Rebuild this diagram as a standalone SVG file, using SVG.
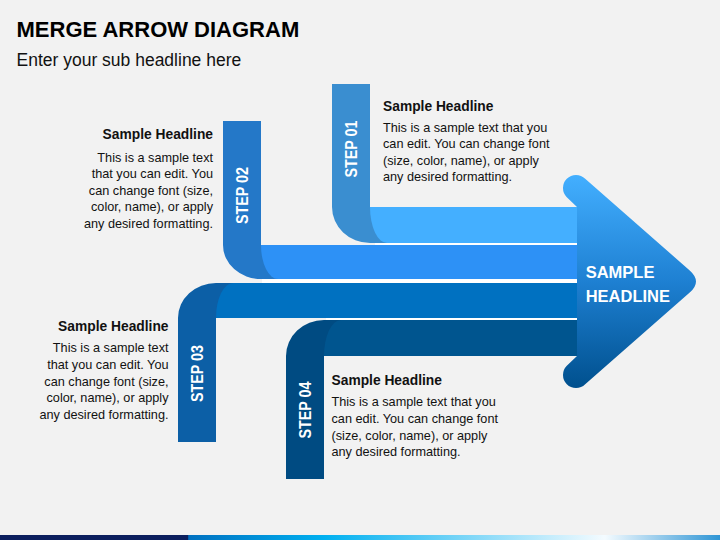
<svg xmlns="http://www.w3.org/2000/svg" width="720" height="540" viewBox="0 0 720 540">
  <defs>
    <linearGradient id="headGrad" gradientUnits="userSpaceOnUse" x1="0" y1="175" x2="0" y2="388">
      <stop offset="0" stop-color="#43AFFF"/>
      <stop offset="0.5" stop-color="#1E80D2"/>
      <stop offset="1" stop-color="#00508E"/>
    </linearGradient>
    <linearGradient id="barGrad" gradientUnits="userSpaceOnUse" x1="0" y1="0" x2="720" y2="0">
      <stop offset="0" stop-color="#0C1F5E"/>
      <stop offset="0.261" stop-color="#0C1F5E"/>
      <stop offset="0.262" stop-color="#0070C0"/>
      <stop offset="0.45" stop-color="#00B0F0"/>
      <stop offset="0.84" stop-color="#F4FBFF"/>
      <stop offset="1" stop-color="#2E95D5"/>
    </linearGradient>
    <style>
      .title { font-family: "Liberation Sans", Arial, sans-serif; font-weight: bold; font-size: 22px; fill: #000; }
      .sub { font-family: "Liberation Sans", Arial, sans-serif; font-size: 17.5px; fill: #111; }
      .hd { font-family: "Liberation Sans", Arial, sans-serif; font-weight: bold; font-size: 13.8px; fill: #111; }
      .body { font-family: "Liberation Sans", Arial, sans-serif; font-size: 12.7px; fill: #111; }
      .step { font-family: "Liberation Sans", Arial, sans-serif; font-weight: bold; font-size: 16px; fill: #fff; }
      .headTxt { font-family: "Liberation Sans", Arial, sans-serif; font-weight: bold; font-size: 16.5px; fill: #fff; }
      .gap { fill: #ffffff; }
    </style>
  </defs>

  <rect x="0" y="0" width="720" height="540" fill="#F2F2F2"/>

  <text class="title" x="16.5" y="36.7">MERGE ARROW DIAGRAM</text>
  <text class="sub" x="16.5" y="65.5">Enter your sub headline here</text>

  <g id="connectors">
    <rect class="gap" x="375" y="242" width="203" height="4"/>
    <rect class="gap" x="262" y="278" width="316" height="6"/>
    <rect class="gap" x="326" y="317" width="252" height="4"/>
  </g>

  <g id="step01">
    <path d="M332,84 H370 V207 H392 V243 H370 A38,36 0 0 1 332,207 Z" fill="#3A8ED0"/>
    <path d="M370,207 H578 V243 H387 A17,36 0 0 1 370,207 Z" fill="#44AFFF"/>
    <text class="step" transform="translate(351,149) rotate(-90)" text-anchor="middle" dy="0.36em" textLength="57" lengthAdjust="spacingAndGlyphs">STEP 01</text>
    <text class="hd" x="383" y="110.5">Sample Headline</text>
    <text class="body" x="383" y="131.5">This is a sample text that you</text>
    <text class="body" x="383" y="148">can edit. You can change font</text>
    <text class="body" x="383" y="164.5">(size, color, name), or apply</text>
    <text class="body" x="383" y="181">any desired formatting.</text>
  </g>

  <g id="step02">
    <path d="M223,121 H261 V245 H285 V279 H261 A38,34 0 0 1 223,245 Z" fill="#2478C8"/>
    <path d="M261,245 H578 V279 H278 A17,34 0 0 1 261,245 Z" fill="#2D91F6"/>
    <text class="step" transform="translate(242,195.5) rotate(-90)" text-anchor="middle" dy="0.36em" textLength="57" lengthAdjust="spacingAndGlyphs">STEP 02</text>
    <text class="hd" x="213" y="138.5" text-anchor="end">Sample Headline</text>
    <text class="body" x="213" y="161.5" text-anchor="end">This is a sample text</text>
    <text class="body" x="213" y="178" text-anchor="end">that you can edit. You</text>
    <text class="body" x="213" y="194.5" text-anchor="end">can change font (size,</text>
    <text class="body" x="213" y="211" text-anchor="end">color, name), or apply</text>
    <text class="body" x="213" y="227.5" text-anchor="end">any desired formatting.</text>
  </g>

  <g id="step03">
    <path d="M178,442 V318 A38,35 0 0 1 216,283 H240 V318 H216 V442 Z" fill="#0C5FA6"/>
    <path d="M233,283 H578 V318 H216 A17,35 0 0 1 233,283 Z" fill="#0071C1"/>
    <text class="step" transform="translate(197,373.5) rotate(-90)" text-anchor="middle" dy="0.36em" textLength="57" lengthAdjust="spacingAndGlyphs">STEP 03</text>
    <text class="hd" x="168.5" y="331" text-anchor="end">Sample Headline</text>
    <text class="body" x="168.5" y="351.5" text-anchor="end">This is a sample text</text>
    <text class="body" x="168.5" y="368.5" text-anchor="end">that you can edit. You</text>
    <text class="body" x="168.5" y="385.5" text-anchor="end">can change font (size,</text>
    <text class="body" x="168.5" y="402" text-anchor="end">color, name), or apply</text>
    <text class="body" x="168.5" y="418.5" text-anchor="end">any desired formatting.</text>
  </g>

  <g id="step04">
    <path d="M286,479 V356 A38,36 0 0 1 324,320 H350 V356 H324 V479 Z" fill="#004B82"/>
    <path d="M341,320 H578 V356 H324 A17,36 0 0 1 341,320 Z" fill="#00558F"/>
    <text class="step" transform="translate(305,410) rotate(-90)" text-anchor="middle" dy="0.36em" textLength="57" lengthAdjust="spacingAndGlyphs">STEP 04</text>
    <text class="hd" x="331.5" y="385">Sample Headline</text>
    <text class="body" x="331.5" y="406">This is a sample text that you</text>
    <text class="body" x="331.5" y="422.7">can edit. You can change font</text>
    <text class="body" x="331.5" y="439.5">(size, color, name), or apply</text>
    <text class="body" x="331.5" y="456">any desired formatting.</text>
  </g>

  <g id="arrowhead">
    <path d="M577,207 L566.8,197.2 A13,13 0 0 1 585.2,178.8 L690,270.7 Q702,281.5 690,292.3 L585.2,384.2 A13,13 0 0 1 566.8,365.8 L577,356 Z" fill="url(#headGrad)"/>
    <text class="headTxt" x="585.7" y="277.7">SAMPLE</text>
    <text class="headTxt" x="585.7" y="301.7">HEADLINE</text>
  </g>

  <rect x="0" y="535" width="720" height="5" fill="url(#barGrad)"/>
</svg>
